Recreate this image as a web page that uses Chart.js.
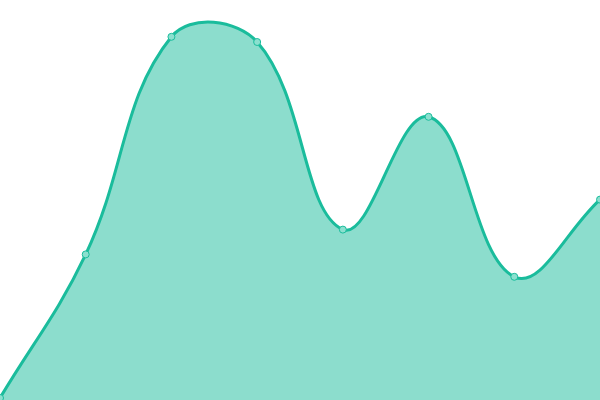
<!DOCTYPE html>
<html>
<head>
<meta charset="utf-8">
<script src="https://cdn.jsdelivr.net/npm/chart.js@4/dist/chart.umd.min.js"></script>
<style>
    html, body { margin: 0; padding: 0; background: #ffffff; }
    #wrap { width: 600px; height: 400px; }
</style>
</head>
<body>
<div id="wrap"><canvas id="areaChart"></canvas></div>
<script>
const labels = ["1", "2", "3", "4", "5", "6", "7", "8"];
const values = [0.5, 36.4, 90.8, 89.5, 42.6, 70.8, 30.8, 50.1];
const yMin = 0;
const yMax = 100;

const ctx = document.getElementById("areaChart").getContext("2d");
new Chart(ctx, {
    type: "line",
    data: {
        labels,
        datasets: [
            {
                data: values,
                fill: "origin",
                backgroundColor: "rgba(26, 188, 156, 0.5)",
                borderColor: "#1abc9c",
                borderWidth: 3,
                tension: 0.4,
                pointRadius: 3.5,
                pointBorderWidth: 1,
                pointBackgroundColor: "#8be0cf",
                pointBorderColor: "#1abc9c",
            },
        ],
    },
    options: {
        responsive: true,
        maintainAspectRatio: false,
        animation: false,
        layout: { padding: 0, autoPadding: false },
        plugins: {
            legend: { display: false },
            tooltip: { enabled: false },
        },
        scales: {
            x: { display: false, offset: false },
            y: { display: false, min: yMin, max: yMax },
        },
    },
});
</script>
</body>
</html>
